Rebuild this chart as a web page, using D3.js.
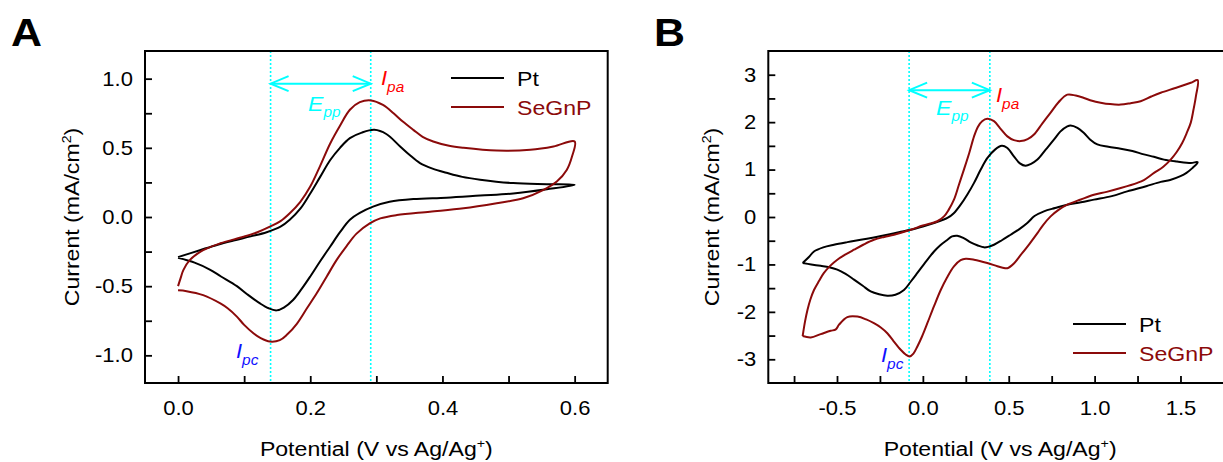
<!DOCTYPE html>
<html><head><meta charset="utf-8">
<script src="https://cdn.jsdelivr.net/npm/d3@7"></script>
<style>html,body{margin:0;padding:0;background:#fff;} svg{display:block}</style>
</head><body><svg id="c" width="1223" height="462"></svg>
<script>
// ---------- DATA ----------
// Panel A: CV of Pt and SeGnP  [potential V, current mA/cm2]
const ptA = [[0.000,-0.29],[0.033,-0.24],[0.06,-0.20],[0.084,-0.17],[0.11,-0.14],[0.134,-0.11],[0.155,-0.07],[0.169,-0.02],[0.185,0.06],[0.2,0.17],[0.215,0.29],[0.23,0.41],[0.245,0.50],[0.26,0.57],[0.278,0.61],[0.297,0.63],[0.315,0.60],[0.336,0.51],[0.35,0.45],[0.366,0.39],[0.385,0.35],[0.406,0.32],[0.43,0.29],[0.457,0.27],[0.507,0.245],[0.558,0.237],[0.60,0.232],
  [0.558,0.20],[0.507,0.17],[0.457,0.155],[0.406,0.14],[0.356,0.13],[0.32,0.11],[0.295,0.075],[0.275,0.03],[0.26,-0.02],[0.245,-0.11],[0.23,-0.215],[0.215,-0.32],[0.2,-0.43],[0.187,-0.52],[0.174,-0.60],[0.16,-0.655],[0.149,-0.675],[0.137,-0.66],[0.124,-0.625],[0.105,-0.56],[0.089,-0.50],[0.065,-0.43],[0.048,-0.38],[0.025,-0.33],[0.0,-0.295]];
const segA = [[0.0,-0.50],[0.004,-0.44],[0.008,-0.384],[0.018,-0.31],[0.038,-0.24],[0.064,-0.19],[0.099,-0.143],[0.12,-0.11],[0.139,-0.07],[0.155,-0.03],[0.169,0.027],[0.185,0.11],[0.2,0.22],[0.215,0.37],[0.23,0.53],[0.245,0.66],[0.26,0.775],[0.275,0.83],[0.292,0.843],[0.31,0.81],[0.326,0.75],[0.34,0.69],[0.356,0.63],[0.37,0.58],[0.386,0.546],[0.41,0.515],[0.432,0.50],[0.482,0.48],[0.533,0.486],[0.568,0.51],[0.60,0.546],
  [0.596,0.437],[0.588,0.34],[0.573,0.256],[0.553,0.196],[0.522,0.135],[0.482,0.10],[0.432,0.063],[0.381,0.038],[0.331,0.014],[0.306,-0.01],[0.29,-0.046],[0.27,-0.12],[0.255,-0.21],[0.24,-0.31],[0.225,-0.43],[0.21,-0.55],[0.195,-0.66],[0.18,-0.77],[0.165,-0.85],[0.154,-0.89],[0.139,-0.90],[0.125,-0.875],[0.114,-0.84],[0.1,-0.78],[0.089,-0.72],[0.075,-0.66],[0.064,-0.625],[0.038,-0.565],[0.013,-0.536],[0.0,-0.53]];
// Panel B
const ptB = [[-0.70,-0.97],[-0.665,-0.85],[-0.634,-0.727],[-0.58,-0.64],[-0.518,-0.585],[-0.44,-0.53],[-0.362,-0.48],[-0.285,-0.43],[-0.207,-0.374],[-0.14,-0.32],[-0.071,-0.27],[0.0,-0.20],[0.065,-0.127],[0.11,-0.07],[0.143,-0.02],[0.18,0.08],[0.22,0.26],[0.26,0.48],[0.298,0.72],[0.337,1.0],[0.375,1.24],[0.42,1.42],[0.46,1.50],[0.49,1.46],[0.53,1.28],[0.565,1.13],[0.598,1.08],[0.63,1.12],[0.667,1.21],[0.715,1.42],[0.763,1.63],[0.80,1.80],[0.841,1.91],[0.86,1.93],[0.90,1.88],[0.938,1.77],[0.975,1.63],[1.016,1.53],[1.08,1.48],[1.152,1.44],[1.22,1.39],[1.287,1.32],[1.345,1.27],[1.404,1.21],[1.48,1.17],[1.56,1.14],[1.60,1.155],
  [1.569,1.03],[1.535,0.93],[1.50,0.86],[1.44,0.78],[1.385,0.74],[1.30,0.65],[1.19,0.54],[1.10,0.44],[0.996,0.366],[0.92,0.31],[0.841,0.26],[0.77,0.19],[0.705,0.12],[0.65,0.02],[0.608,-0.127],[0.56,-0.26],[0.511,-0.374],[0.46,-0.49],[0.414,-0.585],[0.38,-0.63],[0.356,-0.64],[0.32,-0.60],[0.278,-0.535],[0.24,-0.45],[0.2,-0.395],[0.17,-0.41],[0.143,-0.48],[0.10,-0.60],[0.065,-0.727],[0.02,-0.93],[-0.032,-1.18],[-0.07,-1.36],[-0.11,-1.54],[-0.16,-1.64],[-0.207,-1.66],[-0.255,-1.63],[-0.304,-1.57],[-0.35,-1.45],[-0.401,-1.32],[-0.45,-1.20],[-0.498,-1.11],[-0.545,-1.06],[-0.595,-1.03],[-0.65,-1.0],[-0.70,-0.97]];
const segB = [[-0.70,-2.51],[-0.686,-2.2],[-0.672,-1.96],[-0.655,-1.74],[-0.634,-1.54],[-0.605,-1.35],[-0.576,-1.18],[-0.54,-1.03],[-0.498,-0.90],[-0.45,-0.79],[-0.401,-0.69],[-0.345,-0.58],[-0.285,-0.48],[-0.225,-0.42],[-0.168,-0.374],[-0.071,-0.27],[0.0,-0.18],[0.084,-0.09],[0.123,0.013],[0.15,0.15],[0.181,0.365],[0.21,0.68],[0.239,1.0],[0.27,1.35],[0.298,1.7],[0.32,1.90],[0.345,2.02],[0.375,2.07],[0.414,2.02],[0.45,1.87],[0.492,1.70],[0.53,1.62],[0.57,1.60],[0.61,1.64],[0.647,1.74],[0.695,1.97],[0.744,2.2],[0.79,2.42],[0.841,2.58],[0.89,2.56],[0.938,2.51],[0.985,2.45],[1.035,2.41],[1.09,2.38],[1.152,2.37],[1.21,2.40],[1.268,2.44],[1.33,2.54],[1.385,2.62],[1.47,2.72],[1.56,2.83],[1.60,2.886],
  [1.59,2.55],[1.575,2.25],[1.56,1.99],[1.535,1.76],[1.51,1.56],[1.478,1.37],[1.443,1.21],[1.40,1.06],[1.346,0.93],[1.287,0.78],[1.249,0.72],[1.152,0.61],[1.07,0.53],[0.996,0.47],[0.92,0.37],[0.841,0.26],[0.79,0.15],[0.744,0.013],[0.70,-0.17],[0.667,-0.34],[0.62,-0.57],[0.57,-0.80],[0.53,-0.98],[0.492,-1.08],[0.465,-1.07],[0.434,-1.04],[0.375,-0.97],[0.298,-0.90],[0.25,-0.88],[0.22,-0.91],[0.181,-1.04],[0.14,-1.28],[0.104,-1.54],[0.065,-1.88],[0.026,-2.24],[-0.005,-2.52],[-0.032,-2.73],[-0.055,-2.88],[-0.077,-2.94],[-0.10,-2.90],[-0.129,-2.80],[-0.17,-2.62],[-0.207,-2.45],[-0.245,-2.33],[-0.285,-2.24],[-0.33,-2.16],[-0.381,-2.10],[-0.44,-2.11],[-0.488,-2.27],[-0.507,-2.37],[-0.537,-2.40],[-0.595,-2.47],[-0.653,-2.54],[-0.70,-2.51]];

const seriesNames = ["Pt", "SeGnP"];
const xTicksA = [0, 0.2, 0.4, 0.6], xMinorA = [0.1, 0.3, 0.5];
const yTicksA = [-1, -0.5, 0, 0.5, 1], yMinorA = [-0.75, -0.25, 0.25, 0.75];
const xTicksB = [-0.5, 0, 0.5, 1, 1.5], xMinorB = [-0.75, -0.25, 0.25, 0.75, 1.25, 1.75];
const yTicksB = [-3, -2, -1, 0, 1, 2, 3], yMinorB = [-2.5, -1.5, -0.5, 0.5, 1.5, 2.5];
const peakLinesA = [0.14, 0.2915];   // Epc, Epa
const peakLinesB = [-0.08, 0.39];
const xDomainA = [-0.05, 0.65], yDomainA = [-1.2, 1.2];
const xDomainB = [-0.9, 1.8], yDomainB = [-3.5, 3.5];

// ---------- DRAW ----------
const FONT = "'Liberation Sans', Arial, sans-serif";
const SX = 1.1;
const C_PT = "#000000", C_SE = "#8b0a0a", CYAN = "#00ffff";
const svg = d3.select("#c");

function label(g, x, y, parts, o) {
  o = o || {};
  const t = g.append("text")
    .attr("transform", `translate(${x},${y})` + (o.rotate ? ` rotate(${o.rotate})` : "") + ` scale(${SX},1)`)
    .attr("font-family", FONT).attr("font-size", o.size || 21)
    .attr("fill", o.color || "#000").attr("text-anchor", o.anchor || "start")
    .attr("font-style", o.italic ? "italic" : "normal")
    .attr("font-weight", o.weight || "normal");
  parts.forEach(p => {
    const ts = t.append("tspan").text(p.t);
    if (p.size) ts.attr("font-size", p.size);
    if (p.dy) ts.attr("dy", p.dy);
  });
  return t;
}

function panel(cfg) {
  const g = svg.append("g");
  const x = d3.scaleLinear().domain(cfg.xDomain).range([cfg.left, cfg.right]);
  const y = d3.scaleLinear().domain(cfg.yDomain).range([383, 51]);
  const fmtX = cfg.fmtX, fmtY = cfg.fmtY;

  // axes
  const ax = g.append("g").attr("transform", "translate(0,383)")
    .call(d3.axisBottom(x).tickValues(cfg.xTicks).tickSizeInner(-7).tickSizeOuter(0).tickPadding(18).tickFormat(fmtX));
  const axm = g.append("g").attr("transform", "translate(0,383)")
    .call(d3.axisBottom(x).tickValues(cfg.xMinor).tickSizeInner(-7).tickSizeOuter(0).tickFormat(""));
  const ay = g.append("g").attr("transform", `translate(${cfg.left},0)`)
    .call(d3.axisLeft(y).tickValues(cfg.yTicks).tickSizeInner(-7).tickSizeOuter(0).tickPadding(11).tickFormat(fmtY));
  const aym = g.append("g").attr("transform", `translate(${cfg.left},0)`)
    .call(d3.axisLeft(y).tickValues(cfg.yMinor).tickSizeInner(-7).tickSizeOuter(0).tickFormat(""));
  [ax, axm, ay, aym].forEach(a => {
    a.select(".domain").remove();
    a.selectAll("line").attr("stroke", "#000").attr("stroke-width", 1.8);
    a.selectAll("text").attr("font-family", FONT).attr("font-size", 20).attr("fill", "#000")
      .attr("transform", `scale(${SX},1)`);
  });

  // dotted peak lines
  g.selectAll(".pk").data(cfg.peaks).join("line")
    .attr("x1", d => x(d)).attr("x2", d => x(d)).attr("y1", 51).attr("y2", 383)
    .attr("stroke", CYAN).attr("stroke-width", 1.6).attr("stroke-dasharray", "2,2");

  // curves
  const line = d3.line().x(d => x(d[0])).y(d => y(d[1])).curve(d3.curveCatmullRom.alpha(0.5));
  g.append("path").attr("d", line(cfg.pt)).attr("fill", "none").attr("stroke", C_PT).attr("stroke-width", 2);
  g.append("path").attr("d", line(cfg.se)).attr("fill", "none").attr("stroke", C_SE).attr("stroke-width", 2);

  // frame
  g.append("rect").attr("x", cfg.left).attr("y", 51).attr("width", cfg.right - cfg.left).attr("height", 332)
    .attr("fill", "none").attr("stroke", "#000").attr("stroke-width", 2);

  // Epp arrow
  const ya = y(cfg.arrowY), x1 = x(cfg.peaks[0]), x2 = x(cfg.peaks[1]);
  g.append("line").attr("x1", x1).attr("x2", x2).attr("y1", ya).attr("y2", ya).attr("stroke", CYAN).attr("stroke-width", 2);
  g.append("path").attr("d", `M${x1+18},${ya-7.5}L${x1},${ya}L${x1+18},${ya+7.5}M${x2-18},${ya-7.5}L${x2},${ya}L${x2-18},${ya+7.5}`)
    .attr("fill", "none").attr("stroke", CYAN).attr("stroke-width", 2);

  // annotations
  label(g, cfg.epp[0], cfg.epp[1], [{t: "E"}, {t: "pp", size: 14, dy: 6}], {size: 21, italic: true, color: CYAN});
  label(g, cfg.ipa[0], cfg.ipa[1], [{t: "I"}, {t: "pa", size: 14, dy: 7}], {size: 20, italic: true, color: "#ff0000"});
  label(g, cfg.ipc[0], cfg.ipc[1], [{t: "I"}, {t: "pc", size: 14, dy: 7}], {size: 20, italic: true, color: "#1010ff"});

  // legend
  [[seriesNames[0], C_PT], [seriesNames[1], C_SE]].forEach((s, i) => {
    const ly = cfg.legY + i * 29;
    g.append("line").attr("x1", cfg.legX).attr("x2", cfg.legX + 53).attr("y1", ly).attr("y2", ly)
      .attr("stroke", s[1]).attr("stroke-width", 2);
    label(g, cfg.legX + 66, ly + 8, [{t: s[0]}], {size: 21, color: s[1]});
  });

  // axis titles
  label(g, (cfg.left + cfg.right) / 2, 456,
    [{t: "Potential (V vs Ag/Ag"}, {t: "+", size: 13, dy: -8}, {t: ")", size: 21, dy: 8}], {size: 21, anchor: "middle"});
  label(g, cfg.yTitleX, 217,
    [{t: "Current (mA/cm"}, {t: "2", size: 13, dy: -8}, {t: ")", size: 21, dy: 8}], {size: 21, anchor: "middle", rotate: -90});

  // panel letter
  label(g, cfg.letterX, 46, [{t: cfg.letter}], {size: 39, weight: "bold"});
}

const f1 = d => d.toFixed(1), f0 = d => d.toFixed(0);
panel({xDomain: xDomainA, yDomain: yDomainA, left: 145, right: 607.7,
  xTicks: xTicksA, xMinor: xMinorA, yTicks: yTicksA, yMinor: yMinorA, fmtX: f1, fmtY: f1,
  pt: ptA, se: segA, peaks: peakLinesA, arrowY: 0.964,
  epp: [308, 111], ipa: [381, 85], ipc: [236, 358], legX: 451, legY: 78,
  yTitleX: 79, letterX: 11, letter: "A"});
panel({xDomain: xDomainB, yDomain: yDomainB, left: 768.3, right: 1232,
  xTicks: xTicksB, xMinor: xMinorB, yTicks: yTicksB, yMinor: yMinorB, fmtX: f1, fmtY: f0,
  pt: ptB, se: segB, peaks: peakLinesB, arrowY: 2.675,
  epp: [936, 115], ipa: [996, 101.5], ipc: [881, 361.5], legX: 1073, legY: 324,
  yTitleX: 719, letterX: 654, letter: "B"});
</script></body></html>
